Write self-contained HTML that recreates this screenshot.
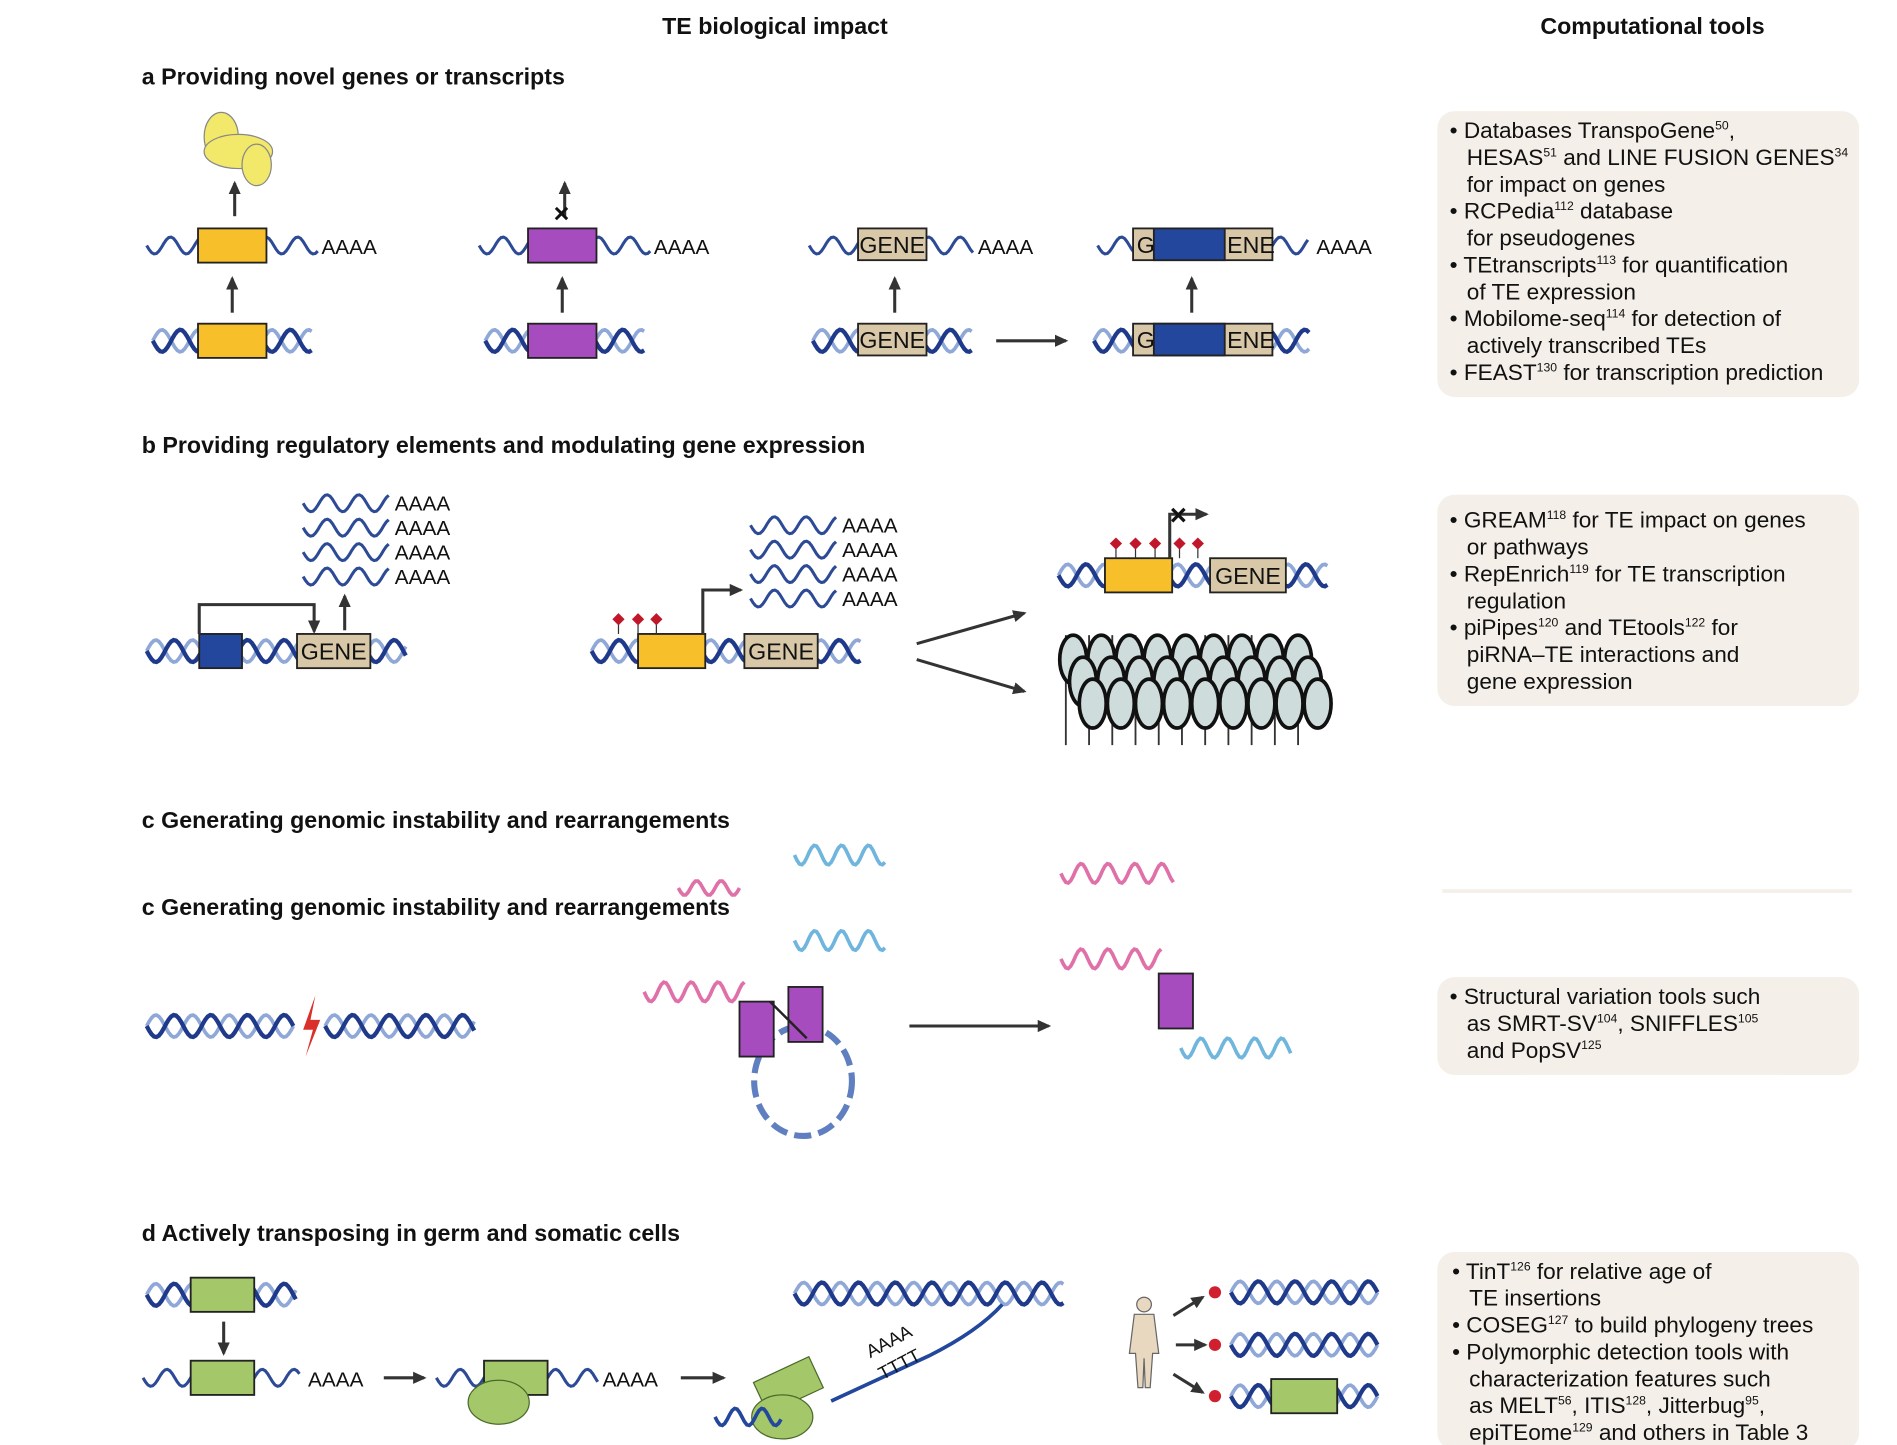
<!DOCTYPE html>
<html><head><meta charset="utf-8"><style>
html,body{margin:0;padding:0;background:#fff}
svg{display:block}
text{font-family:"Liberation Sans",sans-serif;fill:#111}
.h{font-size:19px}
.hs{font-size:19px;font-weight:bold}
.t{font-size:18.5px}
.a{font-size:17px}
.g{font-size:19px}
</style></head><body>
<svg id="s" width="1897" height="1445" viewBox="0 0 1552 1183" preserveAspectRatio="none">
<defs><marker id="ar" markerUnits="userSpaceOnUse" markerWidth="12" markerHeight="12" refX="9" refY="6" orient="auto"><path d="M0,1 L11,6 L0,11 Z" fill="#333"/></marker></defs>
<text x="634" y="28" text-anchor="middle" class="h" font-weight="bold">TE biological impact</text>
<text x="1352" y="28" text-anchor="middle" class="h" font-weight="bold">Computational tools</text>

<text x="116" y="69" class="hs">a  Providing novel genes or transcripts</text>
<text x="116" y="371" class="hs">b  Providing regulatory elements and modulating gene expression</text>
<text x="116" y="678" class="hs">c  Generating genomic instability and rearrangements</text>
<text x="116" y="749" class="hs">c  Generating genomic instability and rearrangements</text>
<text x="116" y="1016" class="hs">d  Actively transposing in germ and somatic cells</text>

<g id="boxes">
<rect x="1176" y="91" width="345" height="234" rx="14" fill="#f4efe8"/>
<rect x="1176" y="405" width="345" height="173" rx="14" fill="#f4efe8"/>
<rect x="1176" y="800" width="345" height="80" rx="14" fill="#f4efe8"/>
<rect x="1176" y="1025" width="345" height="162" rx="14" fill="#f4efe8"/>
</g>
<g class="t">
<text x="1186" y="113">• Databases TranspoGene<tspan font-size="10" dy="-7">50</tspan><tspan dy="7">,</tspan></text>
<text x="1200" y="135">HESAS<tspan font-size="10" dy="-7">51</tspan><tspan dy="7"> and LINE FUSION GENES</tspan><tspan font-size="10" dy="-7">34</tspan></text>
<text x="1200" y="157">for impact on genes</text>
<text x="1186" y="179">• RCPedia<tspan font-size="10" dy="-7">112</tspan><tspan dy="7"> database</tspan></text>
<text x="1200" y="201">for pseudogenes</text>
<text x="1186" y="223">• TEtranscripts<tspan font-size="10" dy="-7">113</tspan><tspan dy="7"> for quantification</tspan></text>
<text x="1200" y="245">of TE expression</text>
<text x="1186" y="267">• Mobilome-seq<tspan font-size="10" dy="-7">114</tspan><tspan dy="7"> for detection of</tspan></text>
<text x="1200" y="289">actively transcribed TEs</text>
<text x="1186" y="311">• FEAST<tspan font-size="10" dy="-7">130</tspan><tspan dy="7"> for transcription prediction</tspan></text>
</g>
<g class="t">
<text x="1186" y="432">• GREAM<tspan font-size="10" dy="-7">118</tspan><tspan dy="7"> for TE impact on genes</tspan></text>
<text x="1200" y="454">or pathways</text>
<text x="1186" y="476">• RepEnrich<tspan font-size="10" dy="-7">119</tspan><tspan dy="7"> for TE transcription</tspan></text>
<text x="1200" y="498">regulation</text>
<text x="1186" y="520">• piPipes<tspan font-size="10" dy="-7">120</tspan><tspan dy="7"> and TEtools</tspan><tspan font-size="10" dy="-7">122</tspan><tspan dy="7"> for</tspan></text>
<text x="1200" y="542">piRNA–TE interactions and</text>
<text x="1200" y="564">gene expression</text>
</g>
<g class="t">
<text x="1186" y="822">• Structural variation tools such</text>
<text x="1200" y="844">as SMRT-SV<tspan font-size="10" dy="-7">104</tspan><tspan dy="7">, SNIFFLES</tspan><tspan font-size="10" dy="-7">105</tspan></text>
<text x="1200" y="866">and PopSV<tspan font-size="10" dy="-7">125</tspan></text>
</g>
<g class="t">
<text x="1188" y="1047">• TinT<tspan font-size="10" dy="-7">126</tspan><tspan dy="7"> for relative age of</tspan></text>
<text x="1202" y="1069">TE insertions</text>
<text x="1188" y="1091">• COSEG<tspan font-size="10" dy="-7">127</tspan><tspan dy="7"> to build phylogeny trees</tspan></text>
<text x="1188" y="1113">• Polymorphic detection tools with</text>
<text x="1202" y="1135">characterization features such</text>
<text x="1202" y="1157">as MELT<tspan font-size="10" dy="-7">56</tspan><tspan dy="7">, ITIS</tspan><tspan font-size="10" dy="-7">128</tspan><tspan dy="7">, Jitterbug</tspan><tspan font-size="10" dy="-7">95</tspan><tspan dy="7">,</tspan></text>
<text x="1202" y="1179">epiTEome<tspan font-size="10" dy="-7">129</tspan><tspan dy="7"> and others  in Table 3</tspan></text>
</g>
<g id="draw"></g>
</svg>
<script>
const NS="http://www.w3.org/2000/svg";
const D=document.getElementById('draw');
function el(t,a,p){const e=document.createElementNS(NS,t);for(const k in a)e.setAttribute(k,a[k]);(p||D).appendChild(e);return e;}
function wave(x1,x2,y,amp,per,col,ph,w){let d='';for(let x=x1;x<=x2;x+=2){const yy=y+amp*Math.sin((x-x1)/per*2*Math.PI+ph);d+=(d?'L':'M')+x+','+yy.toFixed(1);}return el('path',{d:d,fill:'none',stroke:col,'stroke-width':w||3});}
function helix(x1,x2,y,name){const g=el('g',{});


const a=wave(x1,x2,y,9,30,'#8fa8d8',Math.PI,3);g.appendChild(a);const b=wave(x1,x2,y,9,30,'#1f3a8a',0,3.5);g.appendChild(b);}
function rna(x1,x2,y,name){const w=wave(x1,x2,y,7,26,'#2c4a96',0,2.5);

}
function box(x,y,w,h,fill,name,label){const r=el('rect',{x:x,y:y,width:w,height:h,fill:fill,stroke:'#222','stroke-width':1.5});


if(label){const t=el('text',{x:x+w/2,y:y+h/2+7,'text-anchor':'middle','class':'g'});t.textContent=label;}}
function arrow(x1,y1,x2,y2,name){const l=el('line',{x1:x1,y1:y1,x2:x2,y2:y2,stroke:'#333','stroke-width':2.5,'marker-end':'url(#ar)'});

}
function txt(x,y,s,cls,name){const t=el('text',{x:x,y:y,'class':cls});t.textContent=s;

}
// section a
el('ellipse',{cx:181,cy:112,rx:14,ry:20,fill:'#f2e86a',stroke:'#888'});el('ellipse',{cx:195,cy:124,rx:28,ry:14,fill:'#f2e86a',stroke:'#888'});el('ellipse',{cx:210,cy:135,rx:12,ry:17,fill:'#f2e86a',stroke:'#888'});
[[120,190,'#f7c02a'],[392,460,'#a64cbf']].forEach((c,i)=>{
rna(c[0],c[0]+140,201,'transcript-a'+i);box(c[1]-28,187,56,28,c[2],'te-transcript-'+i);txt(c[0]+143,208,'AAAA','a','polya');
helix(c[0]+5,c[0]+135,279,'dna-a'+i);box(c[1]-28,265,56,28,c[2],'te-dna-'+i);arrow(c[1],256,c[1],228,'arrow-up');});
arrow(192,177,192,150,'arrow-protein');arrow(462,177,462,150,'arrow-blocked');
el('text',{x:453,y:182,fill:'#c00','font-size':22,'font-weight':'bold'}).textContent='×';
rna(662,797,201,'gene-rna');box(702,187,56,26,'#d9c8a8','gene-rna-box','GENE');txt(800,208,'AAAA','a','polya');
helix(665,795,279,'gene-dna');box(702,265,56,26,'#d9c8a8','gene-dna-box','GENE');arrow(732,256,732,228,'arrow-up');
arrow(815,279,872,279,'arrow-insert');
rna(898,1070,201,'chimeric-rna');box(927,187,114,26,'#d9c8a8','chimeric-box');box(944,187,58,26,'#22479c','te-insert');
txt(930,207,'G','g','g');txt(1004,207,'ENE','g','ene');txt(1077,208,'AAAA','a','polya');
helix(895,1072,279,'chimeric-dna');box(927,265,114,26,'#d9c8a8','chimeric-dna-box');box(944,265,58,26,'#22479c','te-dna-insert');
txt(930,285,'G','g','g');txt(1004,285,'ENE','g','ene');arrow(975,256,975,228,'arrow-up');
// section b
for(let i=0;i<4;i++){rna(248,318,412+i*20,'mrna');txt(323,418+i*20,'AAAA','a','polya');}
helix(120,333,533,'dna-b1');box(163,519,35,28,'#22479c','te-promoter');box(243,519,60,28,'#d9c8a8','gene-b1','GENE');
el('path',{d:'M163,519 V495 H257 V517',fill:'none',stroke:'#333','stroke-width':2.5,'marker-end':'url(#ar)'});arrow(282,516,282,488,'arrow-up');
for(let i=0;i<4;i++){rna(614,684,430+i*20,'mrna');txt(689,436+i*20,'AAAA','a','polya');}
helix(484,705,533,'dna-b2');box(522,519,55,28,'#f7c02a','te-b2');box(609,519,60,28,'#d9c8a8','gene-b2','GENE');
el('path',{d:'M575,519 V483 H606',fill:'none',stroke:'#333','stroke-width':2.5,'marker-end':'url(#ar)'});
[506,522,537].forEach(x=>{el('line',{x1:x,y1:519,x2:x,y2:509,stroke:'#333'});el('path',{d:`M${x},502 l5,5 l-5,5 l-5,-5z`,fill:'#c0182a'});});
arrow(750,527,838,502,'arrow-methylation');arrow(750,540,838,566,'arrow-chromatin');
helix(866,1087,471,'dna-b3');box(904,457,55,28,'#f7c02a','te-b3');box(990,457,62,28,'#d9c8a8','gene-b3','GENE');
el('path',{d:'M957,457 V421 H987',fill:'none',stroke:'#333','stroke-width':2.5,'marker-end':'url(#ar)'});
el('text',{x:957,y:430,fill:'#c00','font-size':24,'font-weight':'bold'}).textContent='×';
[913,929,945,965,980].forEach(x=>{el('line',{x1:x,y1:457,x2:x,y2:447,stroke:'#333'});el('path',{d:`M${x},440 l5,5 l-5,5 l-5,-5z`,fill:'#c0182a'});});
const chr=el('g',{});
for(let c=0;c<11;c++)el('line',{x1:872+c*19,y1:520,x2:872+c*19,y2:610,stroke:'#333','stroke-width':1.5},chr);
for(let r=0;r<3;r++)for(let c=0;c<9;c++){el('ellipse',{cx:878+c*23+r*8,cy:540+r*18,rx:11,ry:20,fill:'#cfdcdc',stroke:'#111','stroke-width':3},chr);}
// section c ghost pieces
wave(650,725,700,8,22,'#6fb5dd',0,3);wave(868,960,715,8,22,'#e070a8',0,3);wave(555,605,727,6,20,'#e070a8',0,3);
el('rect',{x:1180,y:728,width:335,height:3,fill:'#f4efe8'});
helix(120,240,840,'dna-c1');helix(266,389,840,'dna-c2');
el('path',{d:'M258,815 L248,843 L256,843 L250,865 L262,835 L254,835 Z',fill:'#d9302a'});
wave(527,610,812,8,22,'#e070a8',0,3);wave(650,725,770,8,22,'#6fb5dd',0,3);
el('ellipse',{cx:657,cy:885,rx:40,ry:45,fill:'none',stroke:'#5f7fc0','stroke-width':5,'stroke-dasharray':'14 6'});
box(605,820,28,45,'#a64cbf','te-c1');box(645,808,28,45,'#a64cbf','te-c2');
el('line',{x1:630,y1:820,x2:660,y2:850,stroke:'#222','stroke-width':2});
arrow(744,840,858,840,'arrow-deletion');
wave(868,950,785,8,22,'#e070a8',0,3);box(948,797,28,45,'#a64cbf','te-c3');wave(966,1056,858,8,22,'#6fb5dd',0,3);
// section d
helix(120,243,1060,'dna-d1');box(156,1046,52,28,'#a4c76a','te-d1');arrow(183,1082,183,1108,'arrow-down');
rna(117,245,1128,'rna-d1');box(156,1114,52,28,'#a4c76a','te-d1-rna');txt(252,1135,'AAAA','a','polya');
arrow(314,1128,347,1128,'arrow-d1');
rna(357,490,1128,'rna-d2');box(396,1114,52,28,'#a4c76a','te-d2');el('ellipse',{cx:408,cy:1148,rx:25,ry:18,fill:'#a4c76a',stroke:'#4a6a2a'});txt(493,1135,'AAAA','a','polya');
arrow(557,1128,592,1128,'arrow-d2');
helix(650,870,1059,'dna-target');
el('path',{d:'M680,1147 L760,1110 Q800,1090 820,1068',fill:'none',stroke:'#22479c','stroke-width':3});
el('rect',{x:620,y:1120,width:50,height:28,fill:'#a4c76a',stroke:'#4a6a2a',transform:'rotate(-25 645 1134)'});
el('ellipse',{cx:640,cy:1160,rx:25,ry:18,fill:'#a4c76a',stroke:'#4a6a2a'});
wave(585,640,1160,7,22,'#22479c',0,3);
el('text',{x:712,y:1112,'font-size':15,transform:'rotate(-28 712 1112)'}).textContent='AAAA';
el('text',{x:722,y:1130,'font-size':15,transform:'rotate(-28 722 1130)'}).textContent='TTTT';
const hum=el('g',{});
el('circle',{cx:936,cy:1068,r:6,fill:'#e8d8c0',stroke:'#666'},hum);el('path',{d:'M928,1076 h16 l4,32 h-5 l-2,28 h-4 l-1,-24 l-1,24 h-4 l-2,-28 h-5 z',fill:'#e8d8c0',stroke:'#666'},hum);
arrow(960,1077,984,1062,'arrow-cell1');arrow(962,1101,986,1101,'arrow-cell2');arrow(960,1125,984,1140,'arrow-cell3');
[1058,1101,1143].forEach((y,i)=>{el('circle',{cx:994,cy:y,r:5,fill:'#d02030'});helix(1007,1128,y,'cell-dna-'+i);});
box(1040,1129,54,28,'#a4c76a','te-somatic');
</script>
</body></html>
